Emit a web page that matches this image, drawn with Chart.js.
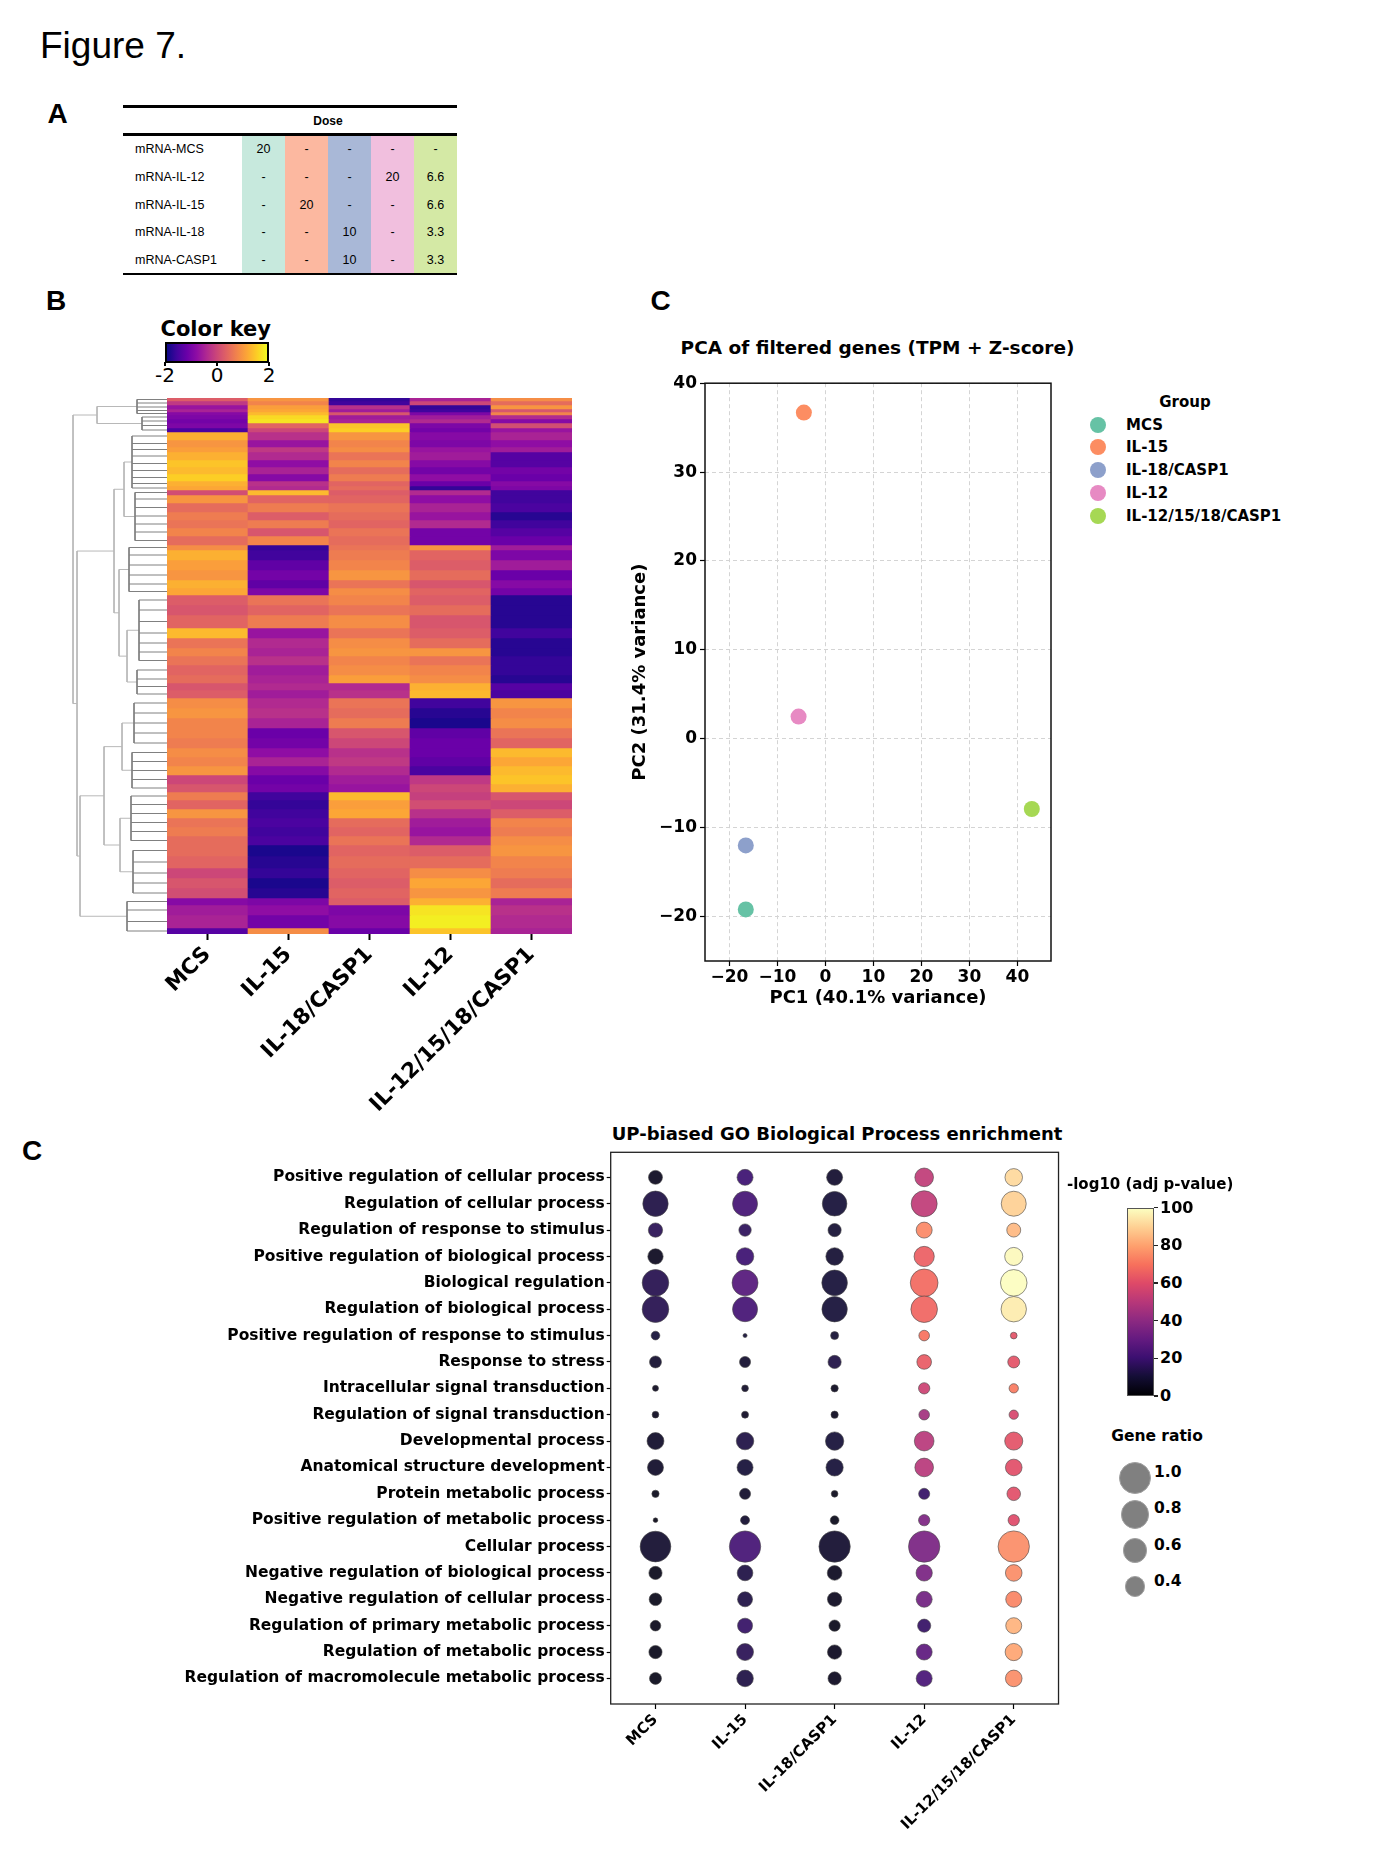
<!DOCTYPE html>
<html>
<head>
<meta charset="utf-8">
<title>Figure 7</title>
<script src="https://cdn.jsdelivr.net/npm/chart.js@4.4.1/dist/chart.umd.min.js"></script>
<style>
  html,body{margin:0;padding:0;background:#fff;}
  body{position:relative;width:1387px;height:1849px;overflow:hidden;}
  .t{position:absolute;white-space:nowrap;line-height:1;color:#000;}
  .b{position:absolute;box-sizing:border-box;}
  canvas{position:absolute;}
</style>
</head>
<body>
<script>
// ================= DATA =================
// Panel A: dose table
const tableRowLabels = ['mRNA-MCS','mRNA-IL-12','mRNA-IL-15','mRNA-IL-18','mRNA-CASP1'];
const doseMCS   = ['20','-','-','-','-'];
const doseIL15  = ['-','-','20','-','-'];
const doseIL18  = ['-','-','-','10','10'];
const doseIL12  = ['-','20','-','-','-'];
const doseCombo = ['-','6.6','6.6','3.3','3.3'];
const tableColColors = ['#c7e9dd','#fcb8a0','#a9b8d7','#f1bfde','#d4e9a5'];

// Panel B: heatmap (row bands, z-scores per sample)
const samples = ['MCS','IL-15','IL-18/CASP1','IL-12','IL-12/15/18/CASP1'];
const bandRows = [3,4,4,3,3,4,4,5,4, 8,7,5,8,7,7,7,5,4, 5,8,9,8,8,8,9, 5,10,10,10,8,7, 10,10,13,
  10,10,8,9, 10,8,7,8, 10,10,10,10,10, 9,9,9,9,8, 8,9,9,9,9,9, 11,12,10,10,10, 7,10,13,6];
const zMCS = [0.3,-0.2,-0.7,-0.5,-0.9,-1.0,-1.1,-1.0,-1.5, 1.3,1.0,1.1,1.3,1.5,1.4,1.6,1.3,1.2,
  0.1,1.0,0.5,0.7,0.6,0.8,0.5, 0.9,1.3,1.1,1.0,1.3,1.2, 0.3,0.2,0.4, 1.4,0.6,0.8,0.6, 0.4,0.5,0.2,0.3,
  0.9,1.0,0.8,0.8,0.7, 0.9,0.8,1.0,0.0,0.2, 0.7,0.4,1.0,0.6,0.7,0.5, 0.5,0.4,0.0,0.2,0.1, -0.9,-0.6,-0.5,-1.4];
const zIL15 = [1.0,0.8,1.1,1.2,1.4,1.7,1.8,0.4,0.0, -0.3,-0.7,-0.2,-0.4,-0.8,-0.5,-0.9,-0.3,-0.4,
  1.4,0.4,0.7,0.3,0.7,0.2,0.8, -1.7,-1.6,-1.3,-1.1,-1.3,-1.0, 0.6,0.4,0.7, -0.7,-0.4,-0.5,-0.3, -0.6,-0.5,-0.4,-0.6,
  -0.4,-0.3,-0.5,-1.2,-1.1, -0.8,-0.5,-0.9,-1.2,-1.1, -1.6,-1.7,-1.6,-1.5,-1.6,-1.5, -1.9,-1.8,-1.7,-1.9,-1.8, -1.0,-0.8,-1.1,0.9];
const zIL18 = [-1.7,-1.6,-0.3,-0.6,0.2,-0.6,-0.5,1.5,1.6, 1.0,0.8,0.9,0.6,0.8,0.5,0.7,0.4,0.5,
  0.3,0.4,0.6,0.5,0.4,0.6,0.5, 0.6,0.7,0.8,1.0,0.6,0.9, 0.8,0.6,0.9, 0.6,0.9,1.0,0.8, 0.9,1.1,-0.4,-0.3,
  0.6,0.5,0.7,0.2,0.0, -0.3,-0.2,-0.4,-0.6,-0.7, 1.4,1.1,1.2,0.5,0.4,0.6, 0.4,0.5,0.4,0.3,0.4, 0.3,-1.0,-0.9,-1.2];
const zIL12 = [-0.5,0.0,-1.7,-1.6,-1.0,-0.6,-0.4,-1.0,-1.1, -0.9,-1.0,-0.7,-0.6,-0.9,-1.1,-0.8,-1.2,-1.7,
  -0.4,-0.8,-0.5,-0.7,-0.4,-1.1,-1.1, 1.0,0.4,0.3,0.5,0.2,0.4, 0.3,0.5,0.2, 0.3,0.5,1.0,0.6, 0.8,0.9,1.3,1.4,
  -1.6,-1.8,-1.9,-1.3,-1.2, -1.2,-1.3,-1.5,-0.2,0.0, -0.1,0.1,-0.3,-0.6,-0.7,-0.4, 0.3,0.5,0.9,1.2,1.0, 1.3,1.8,1.9,1.5];
const zCombo = [0.9,0.5,1.0,0.2,0.8,-0.4,-0.9,0.1,-0.7, -0.5,-0.8,-0.6,-1.4,-1.4,-1.1,-1.2,-0.9,-1.0,
  -1.6,-1.6,-1.5,-1.8,-1.6,-1.4,-1.2, -0.6,-1.0,-0.6,-1.2,-0.9,-1.1, -1.8,-1.8,-1.8, -1.6,-1.8,-1.8,-1.7, -1.7,-1.8,-1.4,-1.5,
  1.0,0.8,0.9,0.6,0.4, 1.4,1.2,1.4,1.5,1.3, 0.2,0.0,0.3,0.8,0.7,0.9, 1.0,0.8,0.7,0.5,0.7, -0.5,-0.3,-0.4,-0.5];
const colorKeyTicks = [-2, 0, 2];

// Dendrogram (clusters of bands, then merges of nodes)
const clusterFirstBand = [0,5,9,18,25,31,38,42,47,52,58,63];
const clusterLastBand  = [4,8,17,24,30,37,41,46,51,57,62,66];
const clusterHeight    = [30,25,35,32,38,28,30,33,35,36,34,40];
const mergeLeft   = [0,5,2,4,14,7,9,17,19,16,12];
const mergeRight  = [1,6,3,13,15,8,10,18,11,20,21];
const mergeHeight = [70,40,43,48,53,45,47,63,87,90,94];

// Panel C: PCA
const pcaGroups = ['MCS','IL-15','IL-18/CASP1','IL-12','IL-12/15/18/CASP1'];
const pc1 = [-16.6, -4.5, -16.6, -5.6, 43.0];
const pc2 = [-19.2, 36.7, -12.0, 2.5, -7.9];
const pcaColors = ['#66c2a5','#fc8d62','#8da0cb','#e78ac3','#a6d854'];
const pcaTicks = [-20,-10,0,10,20,30,40];

// Panel C (bottom): GO dot plot
const goTerms = ['Positive regulation of cellular process','Regulation of cellular process','Regulation of response to stimulus',
  'Positive regulation of biological process','Biological regulation','Regulation of biological process',
  'Positive regulation of response to stimulus','Response to stress','Intracellular signal transduction',
  'Regulation of signal transduction','Developmental process','Anatomical structure development',
  'Protein metabolic process','Positive regulation of metabolic process','Cellular process',
  'Negative regulation of biological process','Negative regulation of cellular process',
  'Regulation of primary metabolic process','Regulation of metabolic process','Regulation of macromolecule metabolic process'];
const goGroups = ['MCS','IL-15','IL-18/CASP1','IL-12','IL-12/15/18/CASP1'];
const ratioMCS   = [0.19,0.63,0.20,0.23,0.69,0.69,0.074,0.14,0.035,0.044,0.28,0.25,0.052,0.021,0.92,0.17,0.155,0.11,0.17,0.14];
const ratioIL15  = [0.25,0.61,0.15,0.30,0.66,0.61,0.016,0.12,0.044,0.048,0.30,0.25,0.12,0.079,0.96,0.24,0.22,0.22,0.28,0.27];
const ratioIL18  = [0.25,0.59,0.17,0.30,0.64,0.63,0.0625,0.17,0.052,0.052,0.33,0.29,0.044,0.074,0.96,0.21,0.20,0.125,0.20,0.17];
const ratioIL12  = [0.34,0.66,0.25,0.40,0.75,0.69,0.11,0.21,0.125,0.11,0.38,0.34,0.12,0.125,0.96,0.26,0.25,0.17,0.25,0.25];
const ratioCombo = [0.30,0.61,0.19,0.32,0.69,0.63,0.044,0.14,0.085,0.085,0.32,0.27,0.18,0.125,0.96,0.27,0.25,0.25,0.29,0.27];
const pMCS   = [5,12,15,5,14,14,10,8,5,5,7,7,4,3,8,4,4,4,4,4];
const pIL15  = [20,22,16,20,26,22,10,8,7,6,12,10,7,8,22,12,12,18,15,12];
const pIL18  = [8,10,9,9,10,10,9,12,5,5,10,10,4,4,8,5,5,4,5,5];
const pIL12  = [52,52,75,65,68,67,70,64,55,45,50,50,18,36,35,35,33,18,28,23];
const pCombo = [92,90,85,99,100,96,62,62,72,58,62,61,61,60,76,76,74,84,81,76];
const pColorTicks = [0,20,40,60,80,100];
const sizeLegendValues = [1.0,0.8,0.6,0.4];

// ================= HELPERS =================
const PLASMA = ['#0d0887','#41049d','#6a00a8','#8f0da4','#b12a90','#cc4778','#e16462','#f2844b','#fca636','#fcce25','#f0f921'];
const MAGMA  = ['#000004','#140e36','#3b0f70','#641a80','#8c2981','#b73779','#de4968','#f7705c','#fe9f6d','#fecf92','#fcfdbf'];
function rgb(h){return [parseInt(h.substr(1,2),16),parseInt(h.substr(3,2),16),parseInt(h.substr(5,2),16)];}
function cmap(stops,t,a){
  t=Math.max(0,Math.min(1,t)); const s=t*(stops.length-1); const i=Math.min(Math.floor(s),stops.length-2); const f=s-i;
  const c0=rgb(stops[i]), c1=rgb(stops[i+1]);
  const c=c0.map((v,k)=>Math.round(v+(c1[k]-v)*f));
  return `rgba(${c[0]},${c[1]},${c[2]},${a===undefined?1:a})`;
}
const ARIAL="'Liberation Sans', Arial, sans-serif", DV="'DejaVu Sans', sans-serif";
function txt(s,x,y,o){
  const d=document.createElement('div'); d.className='t'; d.textContent=s;
  d.style.fontFamily=o.family||DV; d.style.fontSize=o.size+'px'; d.style.fontWeight=o.bold?'bold':'normal';
  const ax=o.align==='center'?'-50%':(o.align==='right'?'-100%':'0');
  d.style.left=x+'px'; d.style.top=y+'px'; d.style.transform=`translate(${ax},-50%)`;
  document.body.appendChild(d); return d;
}
function rect(x,y,w,h,css){const d=document.createElement('div');d.className='b';d.style.left=x+'px';d.style.top=y+'px';d.style.width=w+'px';d.style.height=h+'px';Object.assign(d.style,css||{});document.body.appendChild(d);return d;}
function circ(cx,cy,r,fill,border){return rect(cx-r,cy-r,2*r,2*r,{borderRadius:'50%',background:fill,border:border||'none'});}
function mkCanvas(x,y,w,h){const c=document.createElement('canvas');c.width=w;c.height=h;c.style.left=x+'px';c.style.top=y+'px';c.style.width=w+'px';c.style.height=h+'px';document.body.appendChild(c);return c;}
const minusFmt=v=>v<0?'\u2212'+Math.abs(v):String(v);
const boxPlugin={id:'box',afterDraw(chart,args,opts){const {ctx,chartArea:a}=chart;ctx.save();ctx.strokeStyle=opts.color||'#000';ctx.lineWidth=opts.width||1;ctx.strokeRect(a.left,a.top,a.right-a.left,a.bottom-a.top);ctx.restore();}};

Chart.defaults.font.family=DV; Chart.defaults.color='#000';
const base={responsive:false,animation:false,events:[],devicePixelRatio:1};
const noLegend={legend:{display:false},tooltip:{enabled:false}};

// ================= TEXT / PANEL A =================
txt('Figure 7.',40,45,{family:ARIAL,size:37});
txt('A',47.5,114.2,{family:ARIAL,size:28,bold:true});
txt('B',46,301,{family:ARIAL,size:28,bold:true});
txt('C',650.5,301,{family:ARIAL,size:28,bold:true});
txt('C',22,1151,{family:ARIAL,size:28,bold:true});

const doseCols=[doseMCS,doseIL15,doseIL18,doseIL12,doseCombo];
doseCols.forEach((col,i)=>rect(242+i*43,135.8,43,136.8,{background:tableColColors[i]}));
rect(123,105,334,3,{background:'#000'});
rect(123,133.3,334,2.6,{background:'#000'});
rect(123,272.5,334,2.6,{background:'#000'});
txt('Dose',328,120.7,{family:ARIAL,size:12,bold:true,align:'center'});
tableRowLabels.forEach((lab,r)=>{
  const y=149+r*27.83;
  txt(lab,135,y,{family:ARIAL,size:12.5});
  doseCols.forEach((col,i)=>txt(col[r],242+i*43+21.5,y,{family:ARIAL,size:12.5,align:'center'}));
});

// ================= PANEL B: HEATMAP =================
txt('Color key',160.5,329,{size:21,bold:true});
rect(165,341.7,104,21.5,{background:'linear-gradient(to right,'+PLASMA.join(',')+')',border:'2px solid #000'});
colorKeyTicks.forEach(v=>{const x=165+(v+2)/4*104;rect(x-0.75,362,1.5,4,{background:'#000'});txt(String(v),x,375,{size:20,align:'center'});});

const totalRows=bandRows.reduce((a,b)=>a+b,0);
const zBySample=[zMCS,zIL15,zIL18,zIL12,zCombo];
const heatDatasets=bandRows.map((h,b)=>({
  data:samples.map(()=>h),
  backgroundColor:zBySample.map(col=>cmap(PLASMA,(col[b]+2)/4)),
  borderWidth:0,barPercentage:1,categoryPercentage:1
}));
new Chart(mkCanvas(137,391,443,739),{
  type:'bar',
  data:{labels:samples,datasets:heatDatasets},
  options:{...base,plugins:noLegend,
    layout:{padding:{left:30,top:7,right:8,bottom:0}},
    scales:{
      x:{stacked:true,grid:{offset:false,drawOnChartArea:false,drawTicks:true,tickLength:6,tickColor:'#000',tickWidth:2},border:{display:false},
        ticks:{autoSkip:false,maxRotation:45,minRotation:45,padding:2,color:'#000',font:{weight:'bold',size:21.5}},
        afterFit(s){s.height=196;}},
      y:{stacked:true,display:false,reverse:true,min:0,max:totalRows}
    }}
});

// dendrogram
const bandCenters=[];{let acc=0;bandRows.forEach(h=>{bandCenters.push(acc+h/2);acc+=h;});}
const nodeY=[],nodeH=[],combPts=[],mergePts=[];
clusterFirstBand.forEach((f,c)=>{
  const l=clusterLastBand[c],h=clusterHeight[c];
  combPts.push({x:h,y:bandCenters[f]},{x:h,y:bandCenters[l]},{x:h,y:null});
  for(let b=f;b<=l;b++)combPts.push({x:0,y:bandCenters[b]},{x:h,y:bandCenters[b]},{x:h,y:null});
  nodeY.push((bandCenters[f]+bandCenters[l])/2);nodeH.push(h);
});
mergeLeft.forEach((a,m)=>{
  const b=mergeRight[m],h=mergeHeight[m];
  mergePts.push({x:nodeH[a],y:nodeY[a]},{x:h,y:nodeY[a]},{x:h,y:nodeY[b]},{x:nodeH[b],y:nodeY[b]},{x:h,y:null});
  nodeY.push((nodeY[a]+nodeY[b])/2);nodeH.push(h);
});
new Chart(mkCanvas(66,391,101,550),{
  type:'scatter',
  data:{datasets:[
    {data:combPts,showLine:true,borderColor:'#808080',borderWidth:1,pointRadius:0,spanGaps:false,clip:false},
    {data:mergePts,showLine:true,borderColor:'#b8b8b8',borderWidth:1,pointRadius:0,spanGaps:false,clip:false}]},
  options:{...base,plugins:noLegend,layout:{padding:{top:7,bottom:7,left:0,right:0}},
    scales:{x:{type:'linear',display:false,reverse:true,min:0,max:101},y:{type:'linear',display:false,reverse:true,min:0,max:totalRows}}}
});

// ================= PANEL C: PCA =================
txt('PCA of filtered genes (TPM + Z-score)',877.5,348,{size:18.5,bold:true,align:'center'});
new Chart(mkCanvas(620,370,440,650),{
  type:'scatter',
  data:{datasets:[{data:pc1.map((x,i)=>({x,y:pc2[i]})),pointBackgroundColor:pcaColors,pointBorderWidth:0,pointRadius:8}]},
  options:{...base,layout:{padding:{top:10,right:9,left:0,bottom:0}},
    plugins:{...noLegend,box:{color:'#111',width:1.5}},
    scales:{
      x:{type:'linear',min:-25.1,max:47,afterBuildTicks(s){s.ticks=pcaTicks.map(v=>({value:v}));},
        grid:{color:'#d4d4d4',lineWidth:1,tickLength:5,tickColor:'#000',tickWidth:1.2},border:{display:false,dash:[4,3]},
        ticks:{padding:1,font:{weight:'bold',size:17},callback:minusFmt},
        title:{display:true,text:'PC1 (40.1% variance)',font:{weight:'bold',size:18},padding:{top:0,bottom:11}},
        afterFit(s){s.height=59;}},
      y:{type:'linear',min:-25,max:40,afterBuildTicks(s){s.ticks=pcaTicks.map(v=>({value:v}));},
        grid:{color:'#d4d4d4',lineWidth:1,tickLength:5,tickColor:'#000',tickWidth:1.2},border:{display:false,dash:[4,3]},
        ticks:{padding:3,font:{weight:'bold',size:17},callback:minusFmt},
        title:{display:true,text:'PC2 (31.4% variance)',font:{weight:'bold',size:18},padding:{top:10,bottom:0}},
        afterFit(s){s.width=85;}}
    }},
  plugins:[boxPlugin]
});
txt('Group',1185,402,{size:15,bold:true,align:'center'});
pcaGroups.forEach((g,i)=>{const y=424.6+i*22.75;circ(1097.7,y,8,pcaColors[i]);txt(g,1126,y,{size:15,bold:true});});

// ================= PANEL C (bottom): GO DOT PLOT =================
txt('UP-biased GO Biological Process enrichment',837,1133.5,{size:18,bold:true,align:'center'});
const ratios=[ratioMCS,ratioIL15,ratioIL18,ratioIL12,ratioCombo];
const pvals=[pMCS,pIL15,pIL18,pIL12,pCombo];
const rOf=v=>16*Math.sqrt(v);
new Chart(mkCanvas(140,1125,935,720),{
  type:'bubble',
  data:{datasets:goGroups.map((g,gi)=>({
    data:goTerms.map((t,i)=>({x:gi,y:i,r:rOf(ratios[gi][i])})),
    backgroundColor:pvals[gi].map(p=>cmap(MAGMA,p/100,0.92)),
    borderColor:'rgba(70,70,70,0.75)',borderWidth:0.8}))},
  options:{...base,layout:{padding:{top:27.3,right:11.5,left:0,bottom:0}},
    plugins:{...noLegend,box:{color:'#222',width:1.3}},
    scales:{
      x:{type:'linear',min:-0.5,max:4.5,afterBuildTicks(s){s.ticks=goGroups.map((_,i)=>({value:i}));},
        grid:{drawOnChartArea:false,tickLength:5,tickColor:'#000',tickWidth:1.2},border:{display:false},
        ticks:{autoSkip:false,maxRotation:45,minRotation:45,padding:2,font:{weight:'bold',size:15},callback:v=>goGroups[v]},
        afterFit(s){s.height=141;}},
      y:{type:'linear',reverse:true,min:-0.95,max:19.97,afterBuildTicks(s){s.ticks=goTerms.map((_,i)=>({value:i}));},
        grid:{drawOnChartArea:false,tickLength:4,tickColor:'#000',tickWidth:1.2},border:{display:false},
        ticks:{autoSkip:false,padding:2,font:{weight:'bold',size:15.5},callback:v=>goTerms[v]},
        afterFit(s){s.width=470.7;}}
    }},
  plugins:[boxPlugin]
});
// colour bar legend
txt('-log10 (adj p-value)',1067,1184,{size:15,bold:true});
const cbTop=1207.7,cbH=188.3;
rect(1126.7,cbTop,27.6,cbH,{background:'linear-gradient(to top,'+MAGMA.join(',')+')',border:'1px solid #555'});
pColorTicks.forEach(v=>{const y=cbTop+cbH-v/100*cbH;rect(1154.3,y-0.6,4,1.2,{background:'#222'});txt(String(v),1160,y,{size:16,bold:true});});
// size legend
txt('Gene ratio',1157,1437,{size:15.5,bold:true,align:'center'});
sizeLegendValues.forEach((v,i)=>{const y=1478.3+i*36.1;circ(1135,y,rOf(v),'#808080','1px solid #a0a0a0');txt(v.toFixed(1),1154,y-5,{size:15.5,bold:true});});
</script>
</body>
</html>
